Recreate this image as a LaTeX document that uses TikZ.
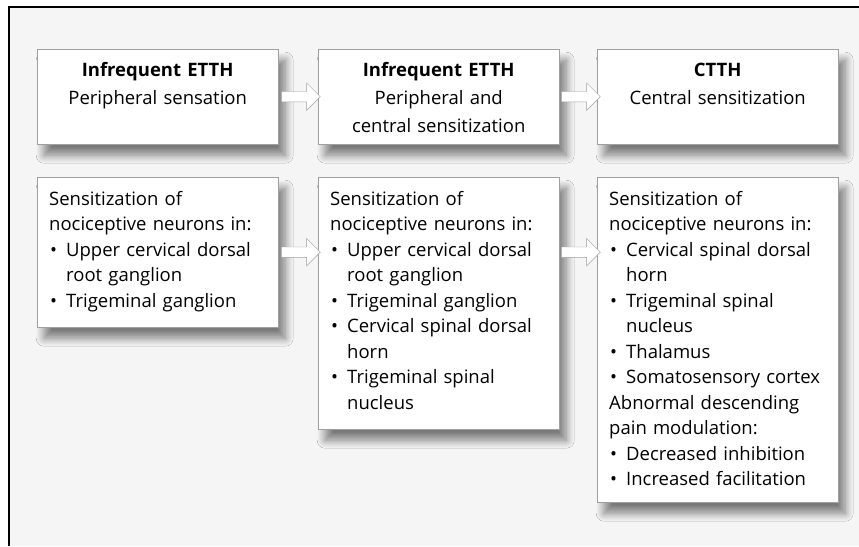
\documentclass[tikz,border=0pt]{standalone}
\usepackage{fontspec}
\setmainfont[Ligatures=NoCommon]{Open Sans}
\usetikzlibrary{shapes.arrows,shadows.blur}
\definecolor{pagegray}{RGB}{245,245,245}
\definecolor{edgegray}{RGB}{160,160,160}

\newcommand{\bitem}[1]{\par\hangindent=17pt\hangafter=1\noindent\makebox[17pt][l]{\hspace{1pt}\textbullet}#1}

\begin{document}
\begin{tikzpicture}[x=1pt, y=1pt,
    box/.style={draw=edgegray, fill=white, anchor=north west, inner xsep=12pt, inner ysep=8pt,
      text width=217pt, font=\fontsize{18.5}{25.5}\selectfont,
      blur shadow={shadow xshift=7pt, shadow yshift=-11pt, shadow blur radius=8pt,
        shadow blur steps=12, shadow opacity=50}},
    topbox/.style={box, align=center, font=\fontsize{18.5}{28}\selectfont, text height=19pt, text depth=60pt},
    lowbox/.style={box, execute at begin node=\raggedright, text height=20pt, text depth=#1},
    flow/.style={single arrow, draw=edgegray, fill=white, inner sep=0pt, text height=5pt, text depth=5pt,
      single arrow head extend=8.5pt, minimum height=39pt}]
    \useasboundingbox (0,0) rectangle (859,-546);

    % Page and frame
    \fill[white] (0,0) rectangle (859,-546);
    \fill[pagegray] (9,-7) rectangle (859,-546);
    \draw[line width=2.5pt] (9,-546) -- (9,-7) -- (859,-7);

    % Top row: stages
    \node[topbox] (t1) at (37,-49) {\textbf{Infrequent ETTH}\\Peripheral sensation};
    \node[topbox] (t2) at (318,-49) {\textbf{Infrequent ETTH}\\Peripheral and\\central sensitization};
    \node[topbox] (t3) at (597,-49) {\textbf{CTTH}\\Central sensitization};

    % Bottom row: mechanisms
    \node[lowbox=114pt] (b1) at (37,-177) {Sensitization of\newline nociceptive neurons in:
      \bitem{Upper cervical dorsal\newline root ganglion}
      \bitem{Trigeminal ganglion}\par};
    \node[lowbox=216pt] (b2) at (318,-177) {Sensitization of\newline nociceptive neurons in:
      \bitem{Upper cervical dorsal\newline root ganglion}
      \bitem{Trigeminal ganglion}
      \bitem{Cervical spinal dorsal\newline horn}
      \bitem{Trigeminal spinal\newline nucleus}\par};
    \node[lowbox=289pt] (b3) at (597,-177) {Sensitization of\newline nociceptive neurons in:
      \bitem{Cervical spinal dorsal\newline horn}
      \bitem{Trigeminal spinal\newline nucleus}
      \bitem{Thalamus}
      \bitem{Somatosensory cortex}
      \par\noindent Abnormal descending\newline pain modulation:
      \bitem{Decreased inhibition}
      \bitem{Increased facilitation}\par};

    % Block arrows
    \path (t1.east) -- node[flow] (a1) {} (t2.west);
    \path (t2.east) -- node[flow] (a2) {} (t3.west);
    \path (b1.east) -- node[flow] (a3) {} (b2.west |- b1.east);
    \path (b2.east |- b1.east) -- node[flow] (a4) {} (b3.west |- b1.east);
\end{tikzpicture}
\end{document}
